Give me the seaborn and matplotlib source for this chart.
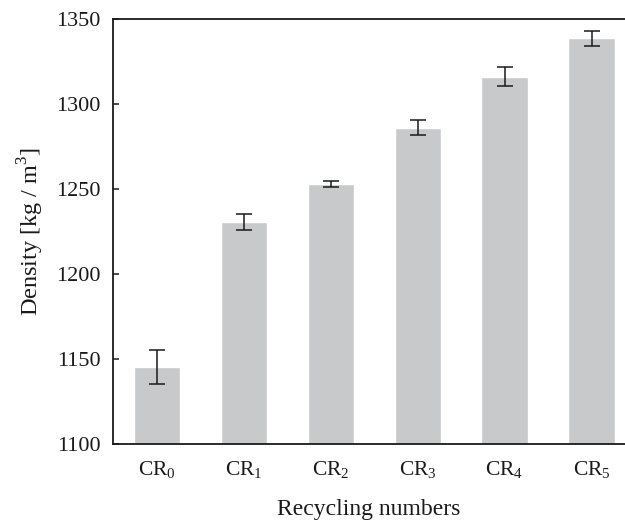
import matplotlib
matplotlib.use("Agg")
import matplotlib.pyplot as plt
import seaborn as sns
import pandas as pd

# Density of concrete by recycling cycle
categories = ["CR0", "CR1", "CR2", "CR3", "CR4", "CR5"]
tick_labels = [r"CR$_\mathregular{%d}$" % i for i in range(6)]
density = [1145, 1230.5, 1253, 1286, 1316, 1338.5]
density_err = [10, 4.6, 1.8, 4.4, 5.7, 4.3]

sns.set_theme(style="ticks", rc={"ytick.direction": "in", "ytick.left": True,
                                 "xtick.bottom": False})
plt.rcParams["font.family"] = ["Liberation Serif", "DejaVu Serif"]
plt.rcParams["mathtext.fontset"] = "custom"
plt.rcParams["mathtext.rm"] = "Liberation Serif"

df = pd.DataFrame({"cycle": categories, "density": density})

fig = plt.figure(figsize=(6.25, 5.23), dpi=100)
ax = fig.add_axes([0.181, 0.151, 0.819, 0.813])

sns.barplot(data=df, x="cycle", y="density", color="#c8c9cb", saturation=1,
            width=0.53, errorbar=None, ax=ax)
ax.errorbar(range(len(categories)), density, yerr=density_err, fmt="none",
            ecolor="#1a1a1a", elinewidth=1.1, capsize=5.5, capthick=1.1)

ax.set_ylim(1100, 1350)
ax.set_yticks([1100, 1150, 1200, 1250, 1300, 1350])
ax.set_xlim(-0.5, 5.385)
ax.set_xticks(range(len(categories)))
ax.set_xticklabels(tick_labels)

for side in ["left", "bottom", "top"]:
    ax.spines[side].set_visible(True)
    ax.spines[side].set_color("#1a1a1a")
    ax.spines[side].set_linewidth(1.3)
ax.spines["right"].set_visible(False)

ax.tick_params(axis="y", which="major", direction="in", length=4.5, width=1.1,
               color="#1a1a1a", labelsize=16, pad=9, left=True, right=False)
ax.tick_params(axis="x", length=0, labelsize=15.5, pad=11)

ax.set_xlabel("Recycling numbers", fontsize=17, labelpad=13, color="#1a1a1a")
ax.set_ylabel(r"Density [kg / m$^\mathregular{3}$]", fontsize=17.5, labelpad=7,
              color="#1a1a1a")
for lab in ax.get_xticklabels() + ax.get_yticklabels():
    lab.set_color("#1a1a1a")

fig.savefig("out.png", dpi=100)
